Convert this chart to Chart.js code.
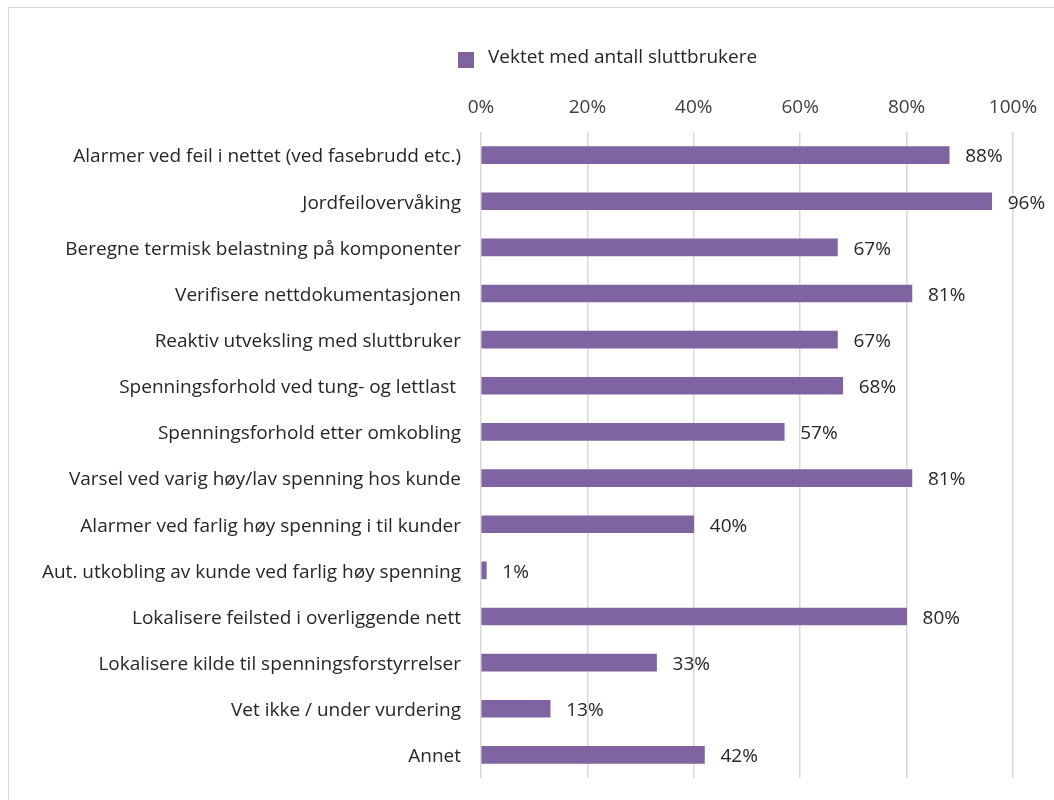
<!DOCTYPE html>
<html><head><meta charset="utf-8">
<script src="https://cdn.jsdelivr.net/npm/chart.js@4.4.1/dist/chart.umd.min.js"></script>
<style>
html,body{margin:0;padding:0;background:#fff;overflow:hidden;width:1054px;height:800px;}
#frame{position:absolute;left:8px;top:7px;width:1100px;height:900px;border:1.5px solid #d9d9d9;box-sizing:border-box;}
#wrap{position:absolute;left:0;top:0;width:1054px;height:800px;}
</style></head>
<body>
<div id="frame"></div>
<div id="wrap"><canvas id="c" width="1054" height="800"></canvas></div>
<script>
const categories = [
  "Alarmer ved feil i nettet (ved fasebrudd etc.)",
  "Jordfeilovervåking",
  "Beregne termisk belastning på komponenter",
  "Verifisere nettdokumentasjonen",
  "Reaktiv utveksling med sluttbruker",
  "Spenningsforhold ved tung- og lettlast ",
  "Spenningsforhold etter omkobling",
  "Varsel ved varig høy/lav spenning hos kunde",
  "Alarmer ved farlig høy spenning i til kunder",
  "Aut. utkobling av kunde ved farlig høy spenning",
  "Lokalisere feilsted i overliggende nett",
  "Lokalisere kilde til spenningsforstyrrelser",
  "Vet ikke / under vurdering",
  "Annet"
];
const seriesName = "Vektet med antall sluttbrukere";
const values = [88, 96, 67, 81, 67, 68, 57, 81, 40, 1, 80, 33, 13, 42];
const xTicks = [0, 20, 40, 60, 80, 100];

const FONT = "'Open Sans', sans-serif";
const FS = 19;
const barColor = "#8064a2";

const labelsPlugin = {
  id: 'valueLabels',
  afterDatasetsDraw(chart) {
    const ctx = chart.ctx;
    const meta = chart.getDatasetMeta(0);
    ctx.save();
    ctx.font = FS + "px " + FONT;
    ctx.fillStyle = "#262626";
    ctx.textAlign = "left";
    ctx.textBaseline = "middle";
    meta.data.forEach((bar, i) => {
      ctx.fillText(values[i] + "%", bar.x + 16, bar.y + 2);
    });
    ctx.restore();
  }
};

const legendPlugin = {
  id: 'customLegend',
  afterDraw(chart) {
    const ctx = chart.ctx;
    ctx.save();
    ctx.fillStyle = barColor;
    ctx.fillRect(458, 52, 16, 16);
    ctx.font = FS + "px " + FONT;
    ctx.fillStyle = "#262626";
    ctx.textBaseline = "middle";
    ctx.textAlign = "left";
    ctx.fillText(chart.data.datasets[0].label, 488, 58);
    ctx.restore();
  }
};

new Chart(document.getElementById('c'), {
  type: 'bar',
  data: {
    labels: categories,
    datasets: [{
      label: seriesName,
      data: values,
      backgroundColor: barColor,
      barThickness: 17
    }]
  },
  options: {
    indexAxis: 'y',
    responsive: false,
    animation: false,
    layout: { padding: { left: 10, right: 41, top: 20, bottom: 22 } },
    plugins: { legend: { display: false }, tooltip: { enabled: false } },
    scales: {
      x: {
        position: 'top',
        min: 0, max: 100,
        afterBuildTicks(scale) { scale.ticks = xTicks.map(v => ({ value: v })); },
        afterFit(scale) { scale.height = 112; },
        ticks: {
          callback: v => v + "%",
          font: { size: FS, family: FONT },
          color: "#404040",
          padding: 13,
          maxRotation: 0
        },
        grid: { color: "#d9d9d9", lineWidth: 1.5, drawTicks: false },
        border: { display: false }
      },
      y: {
        afterFit(scale) { scale.width = 471; scale.paddingTop = 0; scale.paddingBottom = 0; },
        ticks: {
          font: { size: FS, family: FONT },
          color: "#262626",
          padding: 20,
          labelOffset: 2,
          autoSkip: false
        },
        grid: { display: false, drawTicks: false },
        border: { display: false }
      }
    }
  },
  plugins: [labelsPlugin, legendPlugin]
});
</script>
</body></html>
